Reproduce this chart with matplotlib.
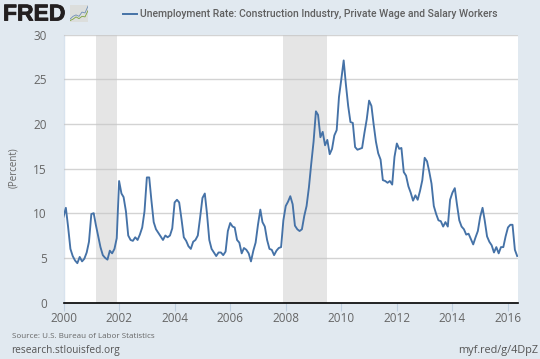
import matplotlib
matplotlib.use("Agg")
import matplotlib.pyplot as plt
import matplotlib.patches as mpatches
import matplotlib.patheffects as pe
import pandas as pd

W, H = 540, 359
BG = "#e1e9f0"
TXT = "#666666"
LINE = "#4572a7"

series_name = "Unemployment Rate: Construction Industry, Private Wage and Salary Workers"
values = [
    9.6, 10.6, 8.5, 6.0, 5.2, 4.7, 4.4, 5.1, 4.6, 4.9, 5.6, 6.8,
    9.9, 10.0, 8.7, 7.4, 6.2, 5.3, 5.0, 4.8, 5.8, 5.5, 6.0, 7.2,
    13.6, 12.2, 11.8, 10.2, 7.5, 7.0, 6.9, 7.3, 7.0, 7.6, 8.4, 10.2,
    14.0, 14.0, 11.5, 9.0, 8.2, 7.8, 7.4, 7.0, 7.5, 7.3, 7.5, 8.3,
    11.2, 11.5, 11.2, 9.3, 7.3, 6.9, 6.3, 6.0, 6.8, 7.0, 7.5, 9.5,
    11.7, 12.2, 10.0, 7.0, 6.0, 5.6, 5.2, 5.6, 5.6, 5.3, 5.7, 8.0,
    8.9, 8.5, 8.4, 7.0, 6.7, 5.5, 6.1, 5.9, 5.5, 4.6, 5.8, 6.7,
    8.7, 10.4, 9.0, 8.5, 7.0, 6.0, 5.9, 5.3, 5.8, 6.1, 6.2, 9.2,
    10.8, 11.3, 11.9, 11.0, 8.6, 8.2, 8.0, 8.2, 9.7, 10.8, 12.9, 15.5,
    18.0, 21.4, 21.0, 18.5, 19.1, 17.6, 18.2, 16.6, 17.2, 18.7, 19.3, 23.0,
    25.0, 27.1, 24.5, 22.0, 20.2, 20.1, 17.4, 17.1, 17.2, 17.3, 19.0, 20.5,
    22.6, 22.0, 20.0, 18.0, 16.7, 16.0, 13.7, 13.6, 13.4, 13.6, 13.2, 16.3,
    17.8, 17.2, 17.3, 14.6, 14.2, 13.0, 12.3, 11.4, 12.0, 11.5, 12.5, 13.7,
    16.2, 15.8, 14.7, 13.3, 10.8, 9.9, 9.2, 9.1, 8.5, 9.0, 8.5, 11.5,
    12.3, 12.8, 11.0, 9.2, 8.5, 8.2, 7.6, 7.7, 7.1, 6.5, 7.3, 8.0,
    9.6, 10.6, 9.2, 7.4, 6.8, 6.4, 5.6, 6.2, 5.5, 6.2, 6.2, 7.4,
    8.4, 8.7, 8.7, 5.9, 5.2,
]
dates = pd.date_range("2000-01-01", periods=len(values), freq="MS")
recessions = [("2001-03-01", "2001-11-30"), ("2007-12-01", "2009-06-30")]
year_ticks = list(range(2000, 2017, 2))
y_ticks = [0, 5, 10, 15, 20, 25, 30]

plt.rcParams["font.family"] = ["Open Sans", "DejaVu Sans"]
fig = plt.figure(figsize=(W / 100, H / 100), dpi=100, facecolor=BG)
L, R, T, B = 63.5, 518, 34.5, 302.5
ax = fig.add_axes([L / W, 1 - B / H, (R - L) / W, (B - T) / H], facecolor="white")

for a, b in recessions:
    ax.axvspan(pd.Timestamp(a), pd.Timestamp(b), color="#e5e5e5", lw=0, zorder=1)
ax.set_ylim(0, 30)
ax.set_yticks(y_ticks)
ax.yaxis.grid(True, color="#c8c8c8", lw=1, alpha=0.8, zorder=2)
ax.set_axisbelow(False)
ax.plot(dates, values, color=LINE, lw=1.35, zorder=3, solid_joinstyle="round")
ax.set_xlim(pd.Timestamp("2000-01-01"), pd.Timestamp("2016-05-12"))
ax.set_xticks([pd.Timestamp(f"{y}-01-01") for y in year_ticks])
ax.set_xticklabels([str(y) for y in year_ticks])
ax.tick_params(axis="x", length=6, width=0.8, color="#c0d0e0", labelcolor=TXT, labelsize=8.5, pad=1, direction="out")
ax.tick_params(axis="y", length=0, labelcolor=TXT, labelsize=8.5, pad=12)
for s in ("top", "right"):
    ax.spines[s].set_visible(False)
ax.spines["left"].set_color("#d8e3ee")
ax.spines["left"].set_linewidth(1)
ax.spines["bottom"].set_color("black")
ax.spines["bottom"].set_linewidth(1.2)
ax.spines["bottom"].set_zorder(5)

def ft(x, y, s, **kw):
    kw.setdefault("color", TXT)
    kw.setdefault("va", "center")
    return fig.text(x / W, 1 - y / H, s, **kw)

ft(14, 168, "(Percent)", rotation=90, ha="center", fontsize=7)
ft(140, 13.5, series_name, ha="left", fontsize=7.5, fontfamily=["Roboto", "DejaVu Sans"], fontweight="medium", color="#5f5f5f")
fig.add_artist(plt.Line2D([123 / W, 136.5 / W], [1 - 13.5 / H] * 2, color=LINE, lw=1.4))
ft(11.5, 337, "Source: U.S. Bureau of Labor Statistics", ha="left", fontsize=5.75)
ft(11.5, 351, "research.stlouisfed.org", ha="left", fontsize=7.3, color="#555555")
ft(538, 351, "myf.red/g/4DpZ", ha="right", fontsize=7.8, color="#555555")
logo = ft(3, 14, "FRED", ha="left", fontsize=16.5, fontweight="bold", color="#231f20", fontfamily=["Liberation Sans", "DejaVu Sans"])
logo.set_path_effects([pe.withStroke(linewidth=0.6, foreground="#231f20")])

# small logo icon
ic = fig.add_axes([70 / W, 1 - 22 / H, 18 / W, 17 / H], facecolor="#d9dcdc")
ic.set_xlim(0, 6); ic.set_ylim(0, 6); ic.axis("off")
ic.add_patch(mpatches.Rectangle((0, 0), 6, 6, color="#dcdedc", lw=0))
logo_x = [0, 1, 2, 3, 4, 5, 6]
ic.plot(logo_x, [1, 2, 2.5, 2, 3.5, 3.2, 5.6], color="#6f8fb5", lw=0.6)
ic.plot(logo_x, [0.5, 1, 1.8, 1.2, 2, 1.8, 4], color="#7da23e", lw=0.6)

fig.savefig("out.png", dpi=100, facecolor=BG)
